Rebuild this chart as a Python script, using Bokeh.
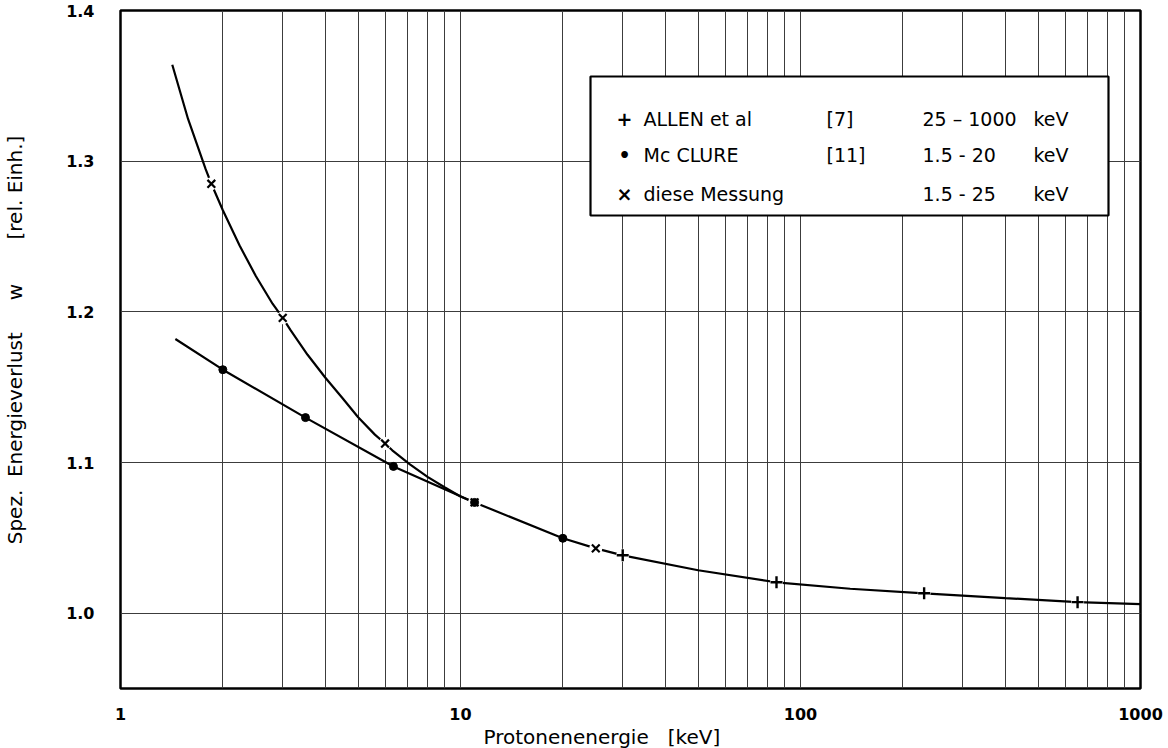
from bokeh.plotting import figure
from bokeh.models import (FixedTicker, BoxAnnotation, Label,
                          CustomJSTickFormatter, Range1d)
from bokeh.embed import file_html
from bokeh.resources import INLINE
import math

# --- measured points -------------------------------------------------------
# ALLEN et al [7], 25-1000 keV
allen_e = [30.0, 85.0, 231.0, 653.0]
allen_w = [1.0384, 1.0205, 1.0132, 1.0073]

# McCLURE [11], 1.5-20 keV
mcclure_e = [2.0, 3.5, 6.35, 11.0, 20.0]
mcclure_w = [1.1616, 1.1298, 1.0974, 1.0735, 1.0497]

# diese Messung, 1.5-25 keV
diese_e = [1.85, 3.0, 6.0, 11.0, 25.0]
diese_w = [1.285, 1.196, 1.1126, 1.0735, 1.043]

# --- hand-drawn fit curves ---------------------------------------------------
upper_curve_e = [1.42, 1.58, 1.78, 1.85, 2.0, 2.24, 2.5, 2.8, 3.0, 3.16, 3.55,
                 4.0, 4.5, 5.0, 5.6, 6.0, 6.3, 7.1, 8.0, 9.0, 10.0, 11.0]
upper_curve_w = [1.364, 1.328, 1.2947, 1.285, 1.2674, 1.244, 1.2238, 1.2054,
                 1.196, 1.188, 1.1715, 1.1564, 1.1426, 1.130, 1.1185, 1.1126,
                 1.1081, 1.0987, 1.0905, 1.0834, 1.0774, 1.0735]

lower_curve_e = [1.45, 2.0, 3.5, 6.35, 11.0, 20.0, 25.0, 30.0, 50.0, 85.0,
                 140.0, 231.0, 400.0, 653.0, 1000.0]
lower_curve_w = [1.182, 1.1616, 1.1298, 1.0974, 1.0735, 1.0497, 1.043, 1.0384,
                 1.0285, 1.0205, 1.0162, 1.0132, 1.0100, 1.0073, 1.006]

# --- axis ticks ----------------------------------------------------------------
x_major = [1, 10, 100, 1000]
x_minor = [2, 3, 4, 5, 6, 7, 8, 9, 20, 30, 40, 50, 60, 70, 80, 90,
           200, 300, 400, 500, 600, 700, 800, 900]
y_major = [1.0, 1.1, 1.2, 1.3, 1.4]

# --- legend rows -------------------------------------------------------------
legend_symbols = ["+", "\u2022", "\u00d7"]
legend_names = ["ALLEN et al", "Mc CLURE", "diese Messung"]
legend_refs = ["[7]", "[11]", ""]
legend_ranges = ["25 \u2013 1000", "1.5 - 20", "1.5 - 25"]
legend_units = ["keV", "keV", "keV"]

FONT = "DejaVu Sans"
NB = "\u00a0"

FRAME_W, FRAME_H = 1020, 678
X0, X1 = 1.0, 1000.0
Y0, Y1 = 0.95, 1.4

p = figure(width=1168, height=748, frame_width=FRAME_W, frame_height=FRAME_H,
           x_axis_type="log", x_range=Range1d(X0, X1), y_range=Range1d(Y0, Y1),
           output_backend="svg", toolbar_location=None,
           min_border_left=119, min_border_right=29,
           min_border_top=10, min_border_bottom=60)
p.background_fill_color = "white"
p.border_fill_color = "white"
p.outline_line_color = "black"
p.outline_line_width = 2.5


def px_x(px):
    """frame pixel offset (from left) -> energy on the log axis"""
    return 10 ** (math.log10(X0) + px / FRAME_W * (math.log10(X1) - math.log10(X0)))


def px_y(py):
    """frame pixel offset (from top) -> w"""
    return Y1 - py / FRAME_H * (Y1 - Y0)


# axes
p.xaxis.ticker = FixedTicker(ticks=x_major, minor_ticks=x_minor)
p.yaxis.ticker = FixedTicker(ticks=y_major)
p.xaxis.formatter = CustomJSTickFormatter(code="return tick.toFixed(0)")
p.yaxis.formatter = CustomJSTickFormatter(code="return tick.toFixed(1)")
for ax in (p.xaxis[0], p.yaxis[0]):
    ax.axis_line_color = None
    ax.major_tick_line_color = None
    ax.minor_tick_line_color = None
    ax.major_label_text_font = FONT
    ax.major_label_text_font_style = "bold"
    ax.major_label_text_font_size = "16px"
    ax.major_label_text_color = "black"
    ax.axis_label_text_font = FONT
    ax.axis_label_text_font_style = "normal"
    ax.axis_label_text_font_size = "20px"
    ax.axis_label_text_color = "black"

p.xaxis.major_label_standoff = 13
p.xaxis.axis_label = "Protonenenergie" + NB * 3 + "[keV]" + NB * 9
p.xaxis.axis_label_standoff = 2
p.yaxis.major_label_standoff = 20
p.yaxis.axis_label = (NB * 3 + "Spez." + NB * 2 + "Energieverlust" + NB * 5 + "w"
                      + NB * 7 + "[rel." + NB + "Einh.]")
p.yaxis.axis_label_standoff = 36

# grid
p.xgrid.ticker = FixedTicker(ticks=x_major, minor_ticks=x_minor)
p.ygrid.ticker = FixedTicker(ticks=y_major)
for g in (p.xgrid[0], p.ygrid[0]):
    g.grid_line_color = "#3c3c3c"
    g.grid_line_width = 1
p.xgrid.minor_grid_line_color = "#3c3c3c"
p.xgrid.minor_grid_line_width = 1

# curves
p.line(upper_curve_e, upper_curve_w, line_color="black", line_width=2.2)
p.line(lower_curve_e, lower_curve_w, line_color="black", line_width=2.2)

# small breaks in the curve around crosses and plus signs
p.scatter(diese_e, diese_w, marker="circle", size=13, fill_color="white",
          line_color=None)
p.scatter(allen_e, allen_w, marker="circle", size=13, fill_color="white",
          line_color=None)

# markers
p.scatter(mcclure_e, mcclure_w, marker="circle", size=8, fill_color="black",
          line_color="black")
p.scatter(diese_e, diese_w, marker="x", size=11, line_color="black",
          line_width=2.2)
p.scatter(allen_e, allen_w, marker="cross", size=12, line_color="black",
          line_width=2.4)

# legend box
box_left, box_right, box_top, box_bottom = 470, 988, 66, 205
p.add_layout(BoxAnnotation(left=px_x(box_left), right=px_x(box_right),
                           top=px_y(box_top), bottom=px_y(box_bottom),
                           fill_color="white", fill_alpha=1.0,
                           line_color="black", line_alpha=1.0, line_width=2.2))

row_y = [108, 144, 183]
col_sym, col_name, col_ref, col_range, col_unit = 504, 523, 706, 802, 913


def add_text(px, py, txt, size="19px", style="normal", align="left"):
    p.add_layout(Label(x=px_x(px), y=px_y(py), text=txt,
                       text_font=FONT, text_font_size=size,
                       text_font_style=style, text_color="black",
                       text_align=align, text_baseline="middle"))


for i in range(3):
    add_text(col_sym, row_y[i], legend_symbols[i], size="19px", style="bold",
             align="center")
    add_text(col_name, row_y[i], legend_names[i])
    if legend_refs[i]:
        add_text(col_ref, row_y[i], legend_refs[i])
    add_text(col_range, row_y[i], legend_ranges[i])
    add_text(col_unit, row_y[i], legend_units[i])

open("out.html", "w").write(file_html(p, INLINE))
